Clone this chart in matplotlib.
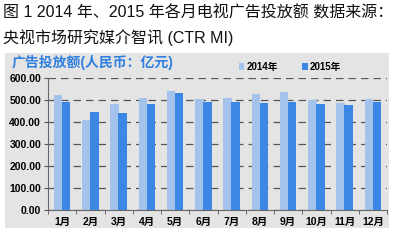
import matplotlib
matplotlib.use("Agg")
import matplotlib.pyplot as plt
import numpy as np
from matplotlib.patches import Rectangle

plt.rcParams['font.family'] = ['Liberation Sans', 'Noto Sans CJK SC', 'DejaVu Sans']

months = ['1月', '2月', '3月', '4月', '5月', '6月', '7月', '8月', '9月', '10月', '11月', '12月']
v2014 = [523, 409, 482, 507, 541, 503, 507, 527, 535, 500, 485, 503]
v2015 = [492, 444, 440, 482, 530, 490, 490, 485, 490, 480, 477, 490]
yticks = [0, 100, 200, 300, 400, 500, 600]

c14 = '#a3c2ec'
c15 = '#3c87e3'

fig = plt.figure(figsize=(4.0, 2.44), dpi=100)
fig.patch.set_facecolor('white')

# grey panel
fig.patches.append(Rectangle((5/400, 1-228/244), (389-5)/400, (228-53)/244,
                             transform=fig.transFigure, facecolor='#e4e4e4',
                             edgecolor='none', zorder=-5))

fig.text(0.008, 1-13/244, '图 1 2014 年、2015 年各月电视广告投放额 数据来源：',
         fontsize=11.5, va='center', ha='left', color='#111111')
fig.text(0.008, 1-38/244, '央视市场研究媒介智讯 (CTR MI)',
         fontsize=11.5, va='center', ha='left', color='#111111')
fig.text(12/400, 1-63/244, '广告投放额(人民币：亿元)', fontsize=10, fontweight='bold',
         color='#2f7fe0', va='center', ha='left')

ax = fig.add_axes([48/400, 1-210/244, (387-48)/400, (210-78)/244], zorder=2)
ax.set_facecolor('none')
x = np.arange(len(months))
w = 0.3
ax.bar(x - 0.14, v2014, width=w, color=c14, label='2014年', zorder=2)
ax.bar(x + 0.14, v2015, width=w, color=c15, label='2015年', zorder=3)
ax.set_ylim(0, 600)
ax.set_xlim(-0.5, len(months) - 0.5)
ax.set_yticks(yticks)
ax.set_yticklabels([f'{v:.2f}' for v in yticks], fontsize=7.5, fontweight='bold')
ax.set_xticks(x)
ax.set_xticklabels(months, fontsize=7.5, fontweight='bold')
ax.set_xticks(np.arange(-0.5, len(months)), minor=True)
ax.tick_params(axis='x', which='major', length=0, pad=5)
ax.tick_params(axis='x', which='minor', length=3, color='#555555')
ax.tick_params(axis='y', length=3, color='#555555', pad=2)
for s in ['top', 'right']:
    ax.spines[s].set_visible(False)
ax.spines['left'].set_color('#666666')
ax.spines['bottom'].set_color('#666666')
ax.yaxis.grid(True, linestyle=(0, (6, 4)), color='#555555', linewidth=0.9, zorder=1)
ax.set_axisbelow(True)

leg = fig.legend(loc='center', bbox_to_anchor=(290/400, 1-67/244), ncol=2, frameon=False,
                 prop={'size': 7, 'weight': 'bold'}, handlelength=0.6, handleheight=0.6,
                 handletextpad=0.2, columnspacing=2.5)
fig.savefig('out.png', dpi=100)
